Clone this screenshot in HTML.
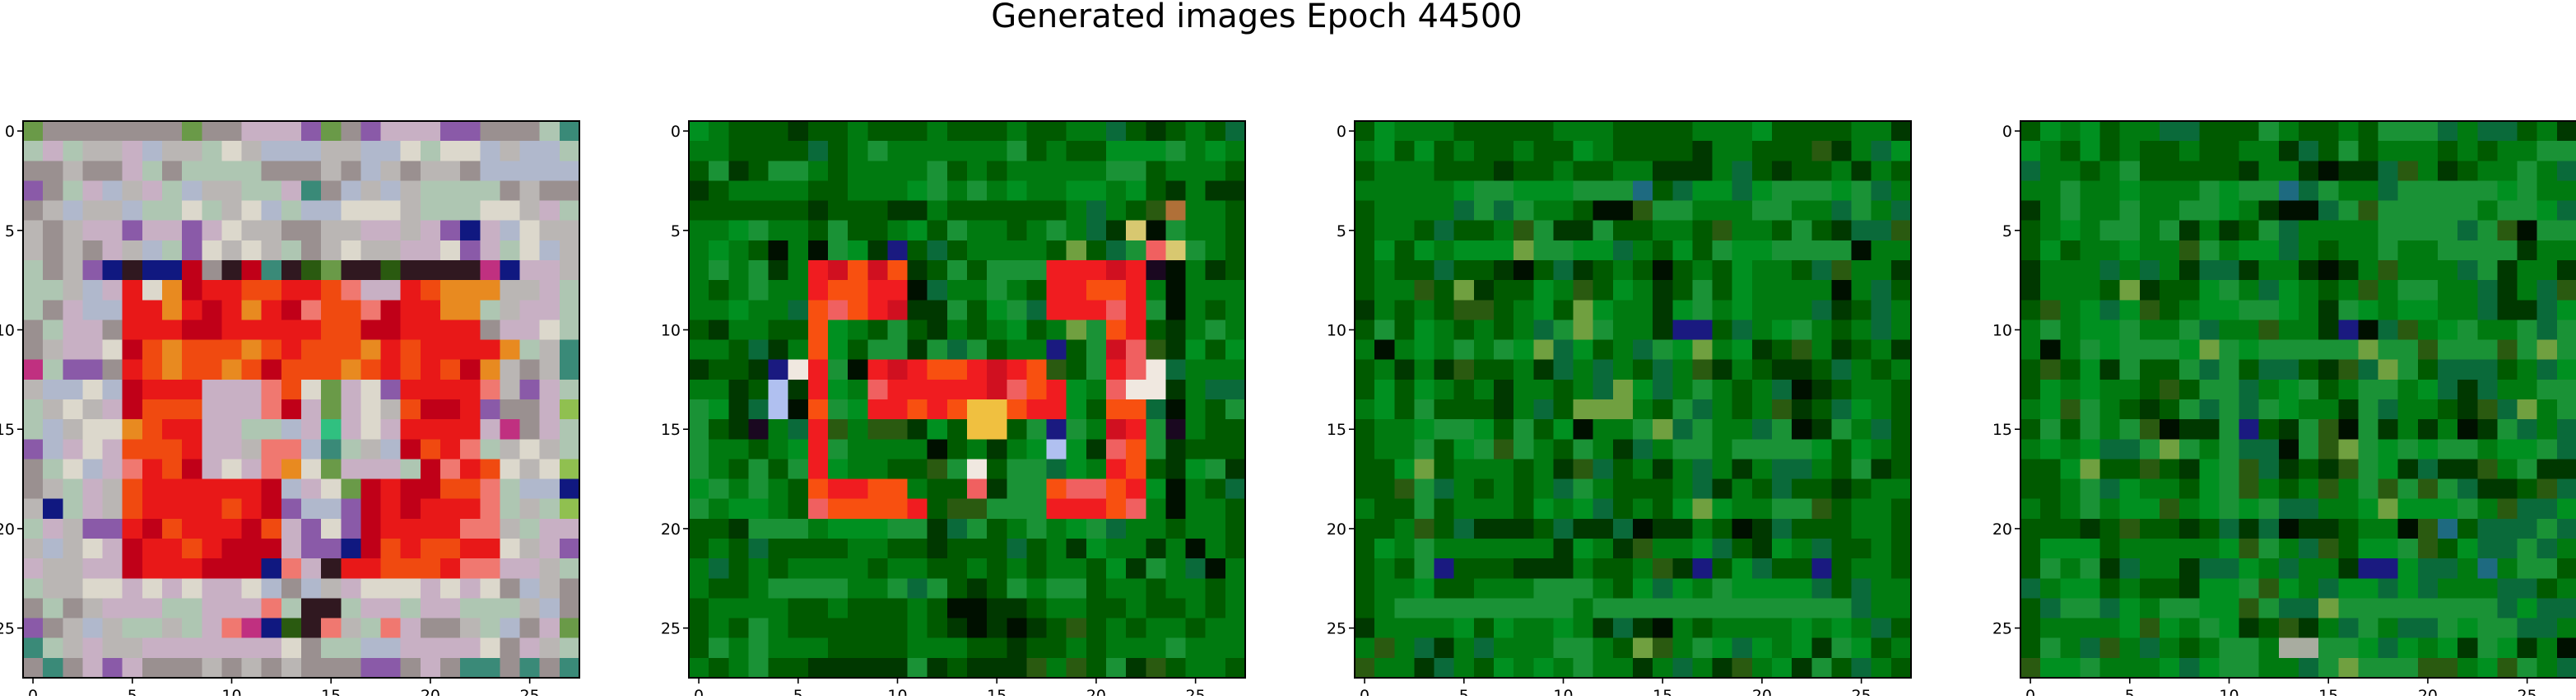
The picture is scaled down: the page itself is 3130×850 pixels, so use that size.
<!DOCTYPE html>
<html><head><meta charset="utf-8"><style>
html,body{margin:0;padding:0;background:#fff;}
#fig{position:absolute;left:0;top:0;width:3130px;height:845px;}
</style></head><body>
<div id="fig">
<svg id="svg" width="3130" height="845" xmlns="http://www.w3.org/2000/svg">
<text x="1527" y="33" text-anchor="middle" font-family="DejaVu Sans, Liberation Sans, sans-serif" font-size="40" fill="#000">Generated images Epoch 44500</text>
</svg></div>
<script>
const tickValues = [0, 5, 10, 15, 20, 25];
const tickLabels = ["0", "5", "10", "15", "20", "25"];
const panelTitles = ["sample-1", "sample-2", "sample-3", "sample-4"];
const pal1 = {n:"#9a9090",p:"#bab6b4",a:"#aec6b2",c:"#c8b0c4",e:"#b0b8cc",w:"#dcd8cc",v:"#8a5aa8",r:"#e81818",o:"#f04a10",R:"#c00018",y:"#e88a20",k:"#301820",b:"#101880",d:"#2a5a10",G:"#6a9a48",T:"#3a8a78",s:"#f07870",m:"#c03080",M:"#30c080",l:"#90c050"};
const pal2 = {H:"#005a00",G:"#007a10",M:"#009020",L:"#1a9236",D:"#003800",T:"#0a6a3a",K:"#001000",l:"#70a040",d:"#2a5a10",B:"#1e6a80",b:"#1a1a80",r:"#f01c20",o:"#f85010",R:"#d01020",s:"#f06060",y:"#f0c040",Y:"#d8c870",w:"#f0e8e0",e:"#b0c0f0",k:"#1a0820",u:"#b07038",v:"#3a2058",p:"#a8aca0"};
const image1 = [
"Gnnnnnn nGnnccc vGnvccc vvnnnaT","acappce ppawpee eppeewa wwepeea","nnpnnca naaaann npnepnp pneeeee","vnacepc aeppaac Tnepepa aaanpnn",
"npeppea awapwea eewwwpa aawwpca","pnpccvc cvcwppn nppccpc vbcewpp","pnpncpe avwpwpa npwppcc wvcawep","anpvbkb bRnkRTk dGkkdkk kkmbccp",
"aapecrw yRrroor rosccro yyyppca","anceerr yrRryrR soosRrr yyapcca","naccnrr rRRrrrr rooRRrr rrnccwa","npccwRo yoooyor oooyror rrryapT",
"mavvnro yooyoRo ooyoror oRypnpT","peeweRr rrcccso wGcwvrr rrspvca","apwpcRo oocccsR cGcwpoR Rrvnncl","aepwwyo rrccaae cMcwcrr rrcmnca",
"vecwcoo orccpss eTapeRo rsapwpa","nawecsr oRcwcsy wGcccaR srowpwl","npacpor rrrrrRe cwGRrRR oosaeeb","pbacpor rrrorRv eevRrRr rrsapal",
"acpvvrR orrrRoc vwvRrrr rsspacc","pepwcRr rorRRRc vvbRoro orrwpcv","cppccRr rrRRRbs ckrrooo rssccpa","appwwcw cwccwen epcwwwc wcwnepn",
"nanpccc aacccsa kkaccac caaapen","vnpepaa pacsmbd kspascn npaencG","Tapcppc ccccccw naaeecc ccwncpa","nTncvcn nnpnpnp nnnvvnc nTTnTnT"];
const image2 = [
"MGHHHDH HGHHHGH HHGHHGG THDHGHT","GGHHHHT HGLGGGG GGLHGHH MMMLGMG","HLDHLLG HGGGGLH GHGGGGG LLHGGGH","DHGGGGH HGGGMLG LGMGGMM GMHDGDD",
"HHHHHHD HHHDDGH HHHHHGT GHduGGH","GGMLGGH LHHGMHL GGHGLGT DYKLGGH","GMGHKGK LMDbHTH GGGGHlH TLsYLGH","GLGLDGr RoRoDHL HLLLrrr RrkKGDH",
"GHGLGGr oorrKTG GLGHrro orGKGGG","GGMGGTo sorRDDL HMLTrrr srLKGHG","HDGGHHo MGHLHDG HGMHGlL orHDGLG","GGHTDGo MHLLDLT LHGGbHL RsdDMHM",
"DHHDbwr LKrRroo rRrodHL rswTGGG","GGDHeDr MGsrrrr rRsorMG swwDGTT","LMDTeKo LMrroro yyorrMH ooTKGHL","LHDkGTr dGddDMH yyHLbLG RrLkGHH",
"LGGHGMr LGGGGKH GDGMeMD soLDHHH","LGHLHLr MGGHHdL wHLLTMG roHDMLD","MLGLGHo rrooGHH sDLLoss orMKGHT","LGMMGHs oooorHd dLLLrrr osGKGGH",
"HHDLLLG MMMLLDT LHGLGML TGGHGGH","HGHTHHH HGGHHDH HHTHGDM GGDGKGH","GTHGHGG GGHGGHH GHGHGGH MDLGTKG","GHHGLLL LGGLTLH DHLGLLH GGHGGHG",
"HGGGGHH GHHHGHK KDDHGGH HGHHGHG","HGHLGHH HHHHGHD KDKDHdH GHGGHGG","HLGLGGG HHHHGGG HHDHHGH GGGLGGG","GHGLHHD DDDDLDH DDDdGdH LDdHGGH"];
const image3 = [
"HMGGGHH HHHGGGH HHHGGGM HHHHGGD","GMHMHGH HGHHMGH HHHDGGH HHdDGTM","HGGGHHH DHHGHHG GDDDGTH DHHGDGH","GGGGGML LMMMLLL BHTMMTM LLLMLTG",
"HGGGGTL TLGGHKK dLLGGGL LGGTLGT","HGGHTHH GdLDDLH HGGHdGG HLHDTTd","HMHMGMM MlLLMMT GHMHLMM LLLLKGG","HGHHTHH DKHTDHG HKHGHMG GHTdGGD",
"HGGdHlD HHMGdHM GDHLHMG GGGKGTH","DGHGHdd HGMHlMG GDMLGMG GGTDHTG","HLHMGHG HGTLlLG GDbbHTG MLGHGTG","GKGMGLG LMlTMHG TLMlGMD HdGDHGD",
"HGDGDdH HGDTGTG HTGdDGH DDHTGHG","HMHMGHG DGGHGTl MTGLGHG TKDHGGH","GMHLHHH DGTHlll GHLTGHG dDHTMGH","HGGMLLM HLHMKGG LlTLGGT LKDLGTH",
"HGGLHML dLGHLGD TGLLGLL LLMHMGH","HHMlHGG GHGDdTH GDGTGDG TTGHLDH","HHdLTGH GHGTLGH HHGTDGH THHDHGG","GHHLHGG GHMGMTH GHMlMGG LLdHGGH",
"HHGdHTD DDHTDDT KDDGHKD THHHGGH","HMGLGGG GGGDMGD dGGMTHD MGTHHGH","HGHLbHH HDDDGHH GdDbHMT HHbHGGH","HGGMHHG GGLLLGH MTMGLMM MMTHTGG",
"HGLLLLL LLLLGLL LLLLLLL LLLLTGG","DGGGGMH MGGMGDT DKGHGGG GMGMGTH","GdGTDGT GGGLLGH ldGLMTM GMDLMHG","dGGDTGH MGMGLGG DGTGDdG MDLHTGH"];
const image4 = [
"HMGMHGG TTHHHLG HHGHLLL TGTTHGD","MGHMHGH HGHHGGD THLHGGG HGHGGLL","TGGHGLH HHHHDGG DKDDTdG DHGGLGT","GGLGGMG GGLMLLB TLGGTLL LLLMLGG",
"DGLGGLG GLLMGDK KTLdLLL LLGLLMT","HGMGLLG LDGDHLT GGGGLLL LTLdKLL","HMHGGMG GdLGMMT GHGGLGG LLLLDGG","DGGGTGT GDTTDGG DKDGdGG GTLDGGD",
"DGGGHlD HHMLGTM GHGdGLL GGTDGTd","HdGMTMd HGMMLLM GDLMGMM GGTDDTM","GLGMMLG GLTGGdG GDbKTdG MLGGLTL","GKGLMLL LMlLMLL LLLlLLd LLLdLlL",
"HdHMDLH HLTLHTT HDdTlLH TTTHGTM","HMGMGGH dHLLTGM LHGLLGM TDTGGLL","GMdLGHD HLTLTLM GGDLTGG HDdTlGL","HLHLGLd KDDLbHD LdKLDGD GKDLTGT",
"GMGMTTL lLGLTTK LdlLMLM LLGMMLT","HHMlHHd HDMLdTD HDdLMDT DDdGLDD","HHGLTMG GHMLdGH GdGLdLd LTDDHdT","GHGLGMM dGMLMLT TGGMlMM MLGdTTM",
"HHHDHdH HDHTDTK DDHGGKd BHTTTLT","HMMMHGG GGGMdLG TdHMMLd HMTTLTG","HLGLDTG GDTTMGT GGDbbMT TGBGLLH","TGMMHGH HDMMLdM GTMMTMT GGGTTHG",
"HTLLTMG LLMMdLT TlLLLLL LLLTMTT","HGGGGMd MGLMDHd DGTLGTT LMLLTTG","HLGTdGT GHGLLGp pLLMTMG MDLMDGK","dMMLGGG MTMLLGG TLlLLLd dGMdLGT"];

const images = [image1, image2, image3, image4];
const palettes = [pal1, pal2, pal2, pal2];
const NS = "http://www.w3.org/2000/svg";
const svg = document.getElementById("svg");
const AX_LEFT = [28, 837, 1646, 2455], AX_TOP = 147, AX_SIZE = 676, N = 28;
const cs = AX_SIZE / N;
function xScale(p, i) { return AX_LEFT[p] + i * cs; }
function yScale(j) { return AX_TOP + j * cs; }
function mk(tag, attrs) { const e = document.createElementNS(NS, tag); for (const k in attrs) e.setAttribute(k, attrs[k]); return e; }

images.forEach((img, p) => {
  const g = mk("g", {"shape-rendering": "crispEdges"});
  
  
  const pal = palettes[p];
  for (let j = 0; j < N; j++) {
    let row = (img[j] || "").replace(/ /g, "");
    while (row.length < N) row += row[row.length - 1] || "G";
    row = row.slice(0, N);
    for (let i = 0; i < N; i++) {
      const c = pal[row[i]] || "#808080";
      const r = mk("rect", {x: xScale(p, i).toFixed(2), y: yScale(j).toFixed(2), width: (cs + 0.6).toFixed(2), height: (cs + 0.6).toFixed(2), fill: c});
      
      
      g.appendChild(r);
    }
  }
  svg.appendChild(g);
  const frame = mk("rect", {x: AX_LEFT[p], y: AX_TOP, width: AX_SIZE, height: AX_SIZE, fill: "none", stroke: "#000", "stroke-width": 2});
  
  
  svg.appendChild(frame);
  tickValues.forEach((v, k) => {
    const cx = xScale(p, v + 0.5), cy = yScale(v + 0.5);
    const tx = mk("line", {x1: cx, x2: cx, y1: AX_TOP + AX_SIZE, y2: AX_TOP + AX_SIZE + 7, stroke: "#000", "stroke-width": 1.6});
    
    
    svg.appendChild(tx);
    const lx = mk("text", {x: cx, y: AX_TOP + AX_SIZE + 28, "text-anchor": "middle", "font-family": "DejaVu Sans, Liberation Sans, sans-serif", "font-size": 19, fill: "#000"});
    lx.textContent = tickLabels[k];
    
    
    svg.appendChild(lx);
    const ty = mk("line", {x1: AX_LEFT[p] - 7, x2: AX_LEFT[p], y1: cy, y2: cy, stroke: "#000", "stroke-width": 1.6});
    
    
    svg.appendChild(ty);
    const ly = mk("text", {x: AX_LEFT[p] - 10, y: cy + 7, "text-anchor": "end", "font-family": "DejaVu Sans, Liberation Sans, sans-serif", "font-size": 19, fill: "#000"});
    ly.textContent = tickLabels[k];
    
    
    svg.appendChild(ly);
  });
});
</script>
</body></html>
